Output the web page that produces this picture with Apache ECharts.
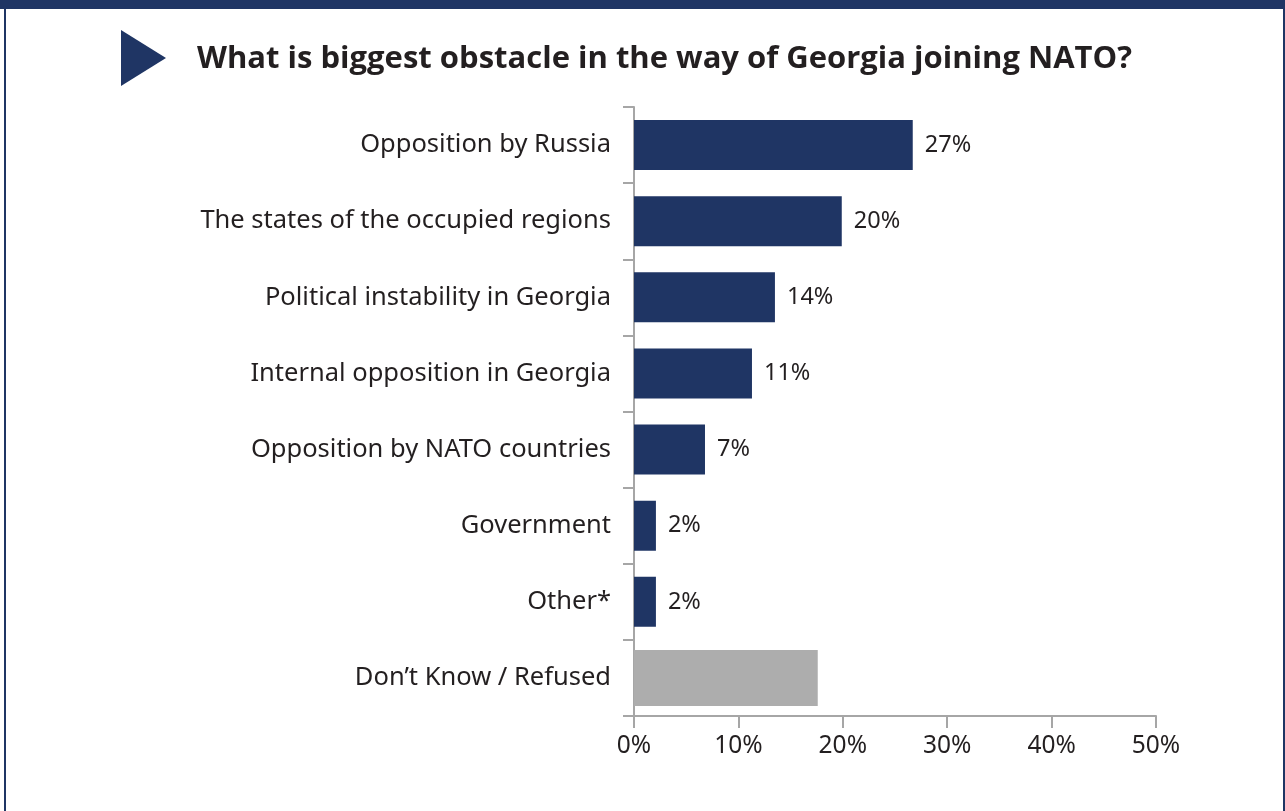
<!DOCTYPE html>
<html>
<head>
<meta charset="utf-8">
<script src="https://cdn.jsdelivr.net/npm/echarts@6/dist/echarts.min.js"></script>
<style>
html,body{margin:0;padding:0;background:#fff;}
#chart{width:1285px;height:811px;}
</style>
</head>
<body>
<div id="chart"></div>
<script>
const titleText = "What is biggest obstacle in the way of Georgia joining NATO?";
const categories = [
  "Opposition by Russia",
  "The states of the occupied regions",
  "Political instability in Georgia",
  "Internal opposition in Georgia",
  "Opposition by NATO countries",
  "Government",
  "Other*",
  "Don\u2019t Know / Refused"
];
const values = [26.7, 19.9, 13.5, 11.3, 6.8, 2.1, 2.1, 17.6];
const valueLabels = ["27%", "20%", "14%", "11%", "7%", "2%", "2%", ""];
const xTicks = [0, 10, 20, 30, 40, 50];

const NAVY = "#1f3564";
const GREY = "#adadad";
const TEXT = "#231f20";
const AXIS = "#a6a6a6";

const chart = echarts.init(document.getElementById('chart'), null, {renderer: 'canvas'});

const last = values.length - 1;
const mainData = values.map((v, i) => i === last ? '-' : v);
const dkData = values.map((v, i) => i === last ? v : '-');

chart.setOption({
  animation: false,
  backgroundColor: '#ffffff',
  grid: { left: 634, right: 129, top: 107, bottom: 95, containLabel: false },
  xAxis: {
    type: 'value',
    min: xTicks[0],
    max: xTicks[xTicks.length - 1],
    interval: xTicks[1] - xTicks[0],
    axisLine: { show: true, lineStyle: { color: AXIS, width: 2 } },
    axisTick: { show: true, length: 12, lineStyle: { color: AXIS, width: 2 } },
    splitLine: { show: false },
    axisLabel: {
      formatter: v => v + '%',
      color: TEXT, fontSize: 24.5, fontFamily: 'Noto Sans', margin: 18
    }
  },
  yAxis: [{
    type: 'category',
    data: categories,
    inverse: true,
    axisLine: { show: true, lineStyle: { color: AXIS, width: 2 } },
    axisTick: { show: true, length: 11, lineStyle: { color: AXIS, width: 2 } },
    axisLabel: { color: TEXT, fontSize: 25.5, fontFamily: 'Noto Sans', margin: 23, padding: [4, 0, 0, 0] }
  }, {
    type: 'category',
    data: categories,
    inverse: true,
    position: 'left',
    show: false
  }],
  series: [{
    type: 'bar',
    yAxisIndex: 0,
    data: mainData,
    barWidth: 50,
    itemStyle: { color: NAVY },
    label: {
      show: true,
      position: 'right',
      distance: 12,
      formatter: p => valueLabels[p.dataIndex],
      color: TEXT, fontSize: 23.5, fontFamily: 'Noto Sans'
    }
  }, {
    type: 'bar',
    yAxisIndex: 1,
    data: dkData,
    barWidth: 56,
    itemStyle: { color: GREY },
    label: { show: false }
  }],
  graphic: [
    { type: 'rect', shape: { x: 0, y: 0, width: 1285, height: 9 }, style: { fill: NAVY }, silent: true },
    { type: 'rect', shape: { x: 4, y: 0, width: 2, height: 811 }, style: { fill: NAVY }, silent: true },
    { type: 'rect', shape: { x: 1283, y: 0, width: 2, height: 811 }, style: { fill: NAVY }, silent: true },
    { type: 'polygon', shape: { points: [[121, 30], [166, 58], [121, 86]] }, style: { fill: NAVY }, silent: true },
    { type: 'text', left: 197, top: 44,
      style: { text: titleText, fill: TEXT, font: 'bold 31px "Open Sans"' }, silent: true }
  ]
});
</script>
</body>
</html>
